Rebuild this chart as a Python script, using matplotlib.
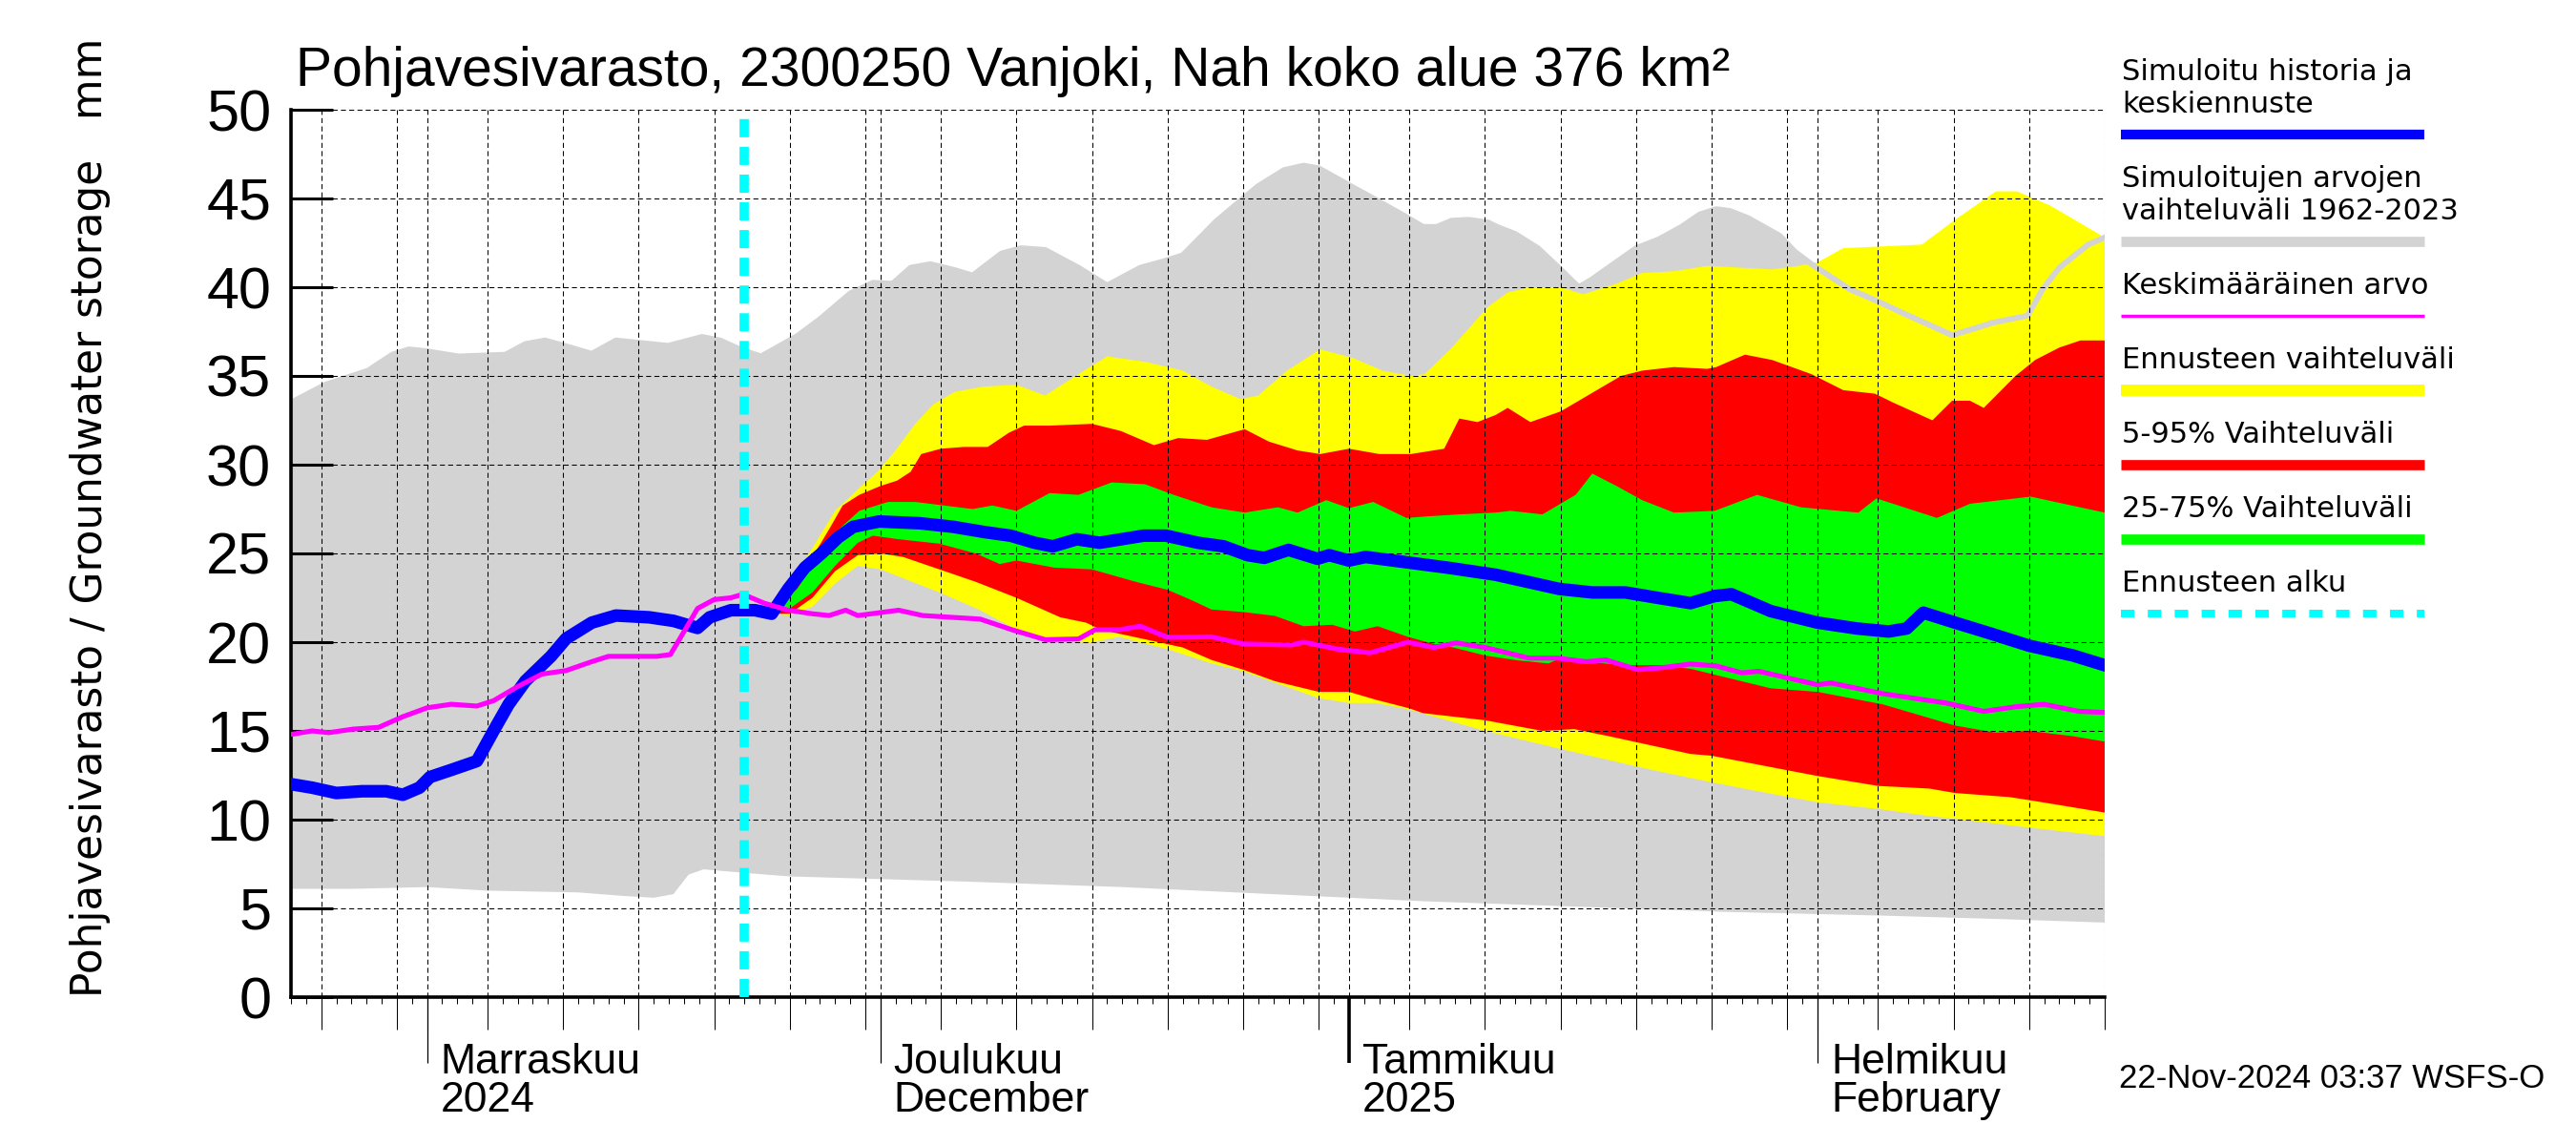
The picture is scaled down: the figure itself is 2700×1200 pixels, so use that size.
import numpy as np
import matplotlib
matplotlib.use("Agg")
import matplotlib.pyplot as plt
import matplotlib.dates as mdates
from matplotlib import font_manager
from matplotlib.lines import Line2D
from matplotlib.transforms import blended_transform_factory, ScaledTranslation

# day offsets from 23 Oct 2024, values in mm
start_date = "2024-10-23"
end_date = "2025-02-20"
forecast_start = "2024-11-22"

gray_hi_d = [0, 2.25, 5.1, 6.7, 7.8, 8.9, 11.1, 14.2, 15.5, 16.8, 18.3, 19.9, 21.5, 24.95, 27.2, 28.4, 29.7, 31.1,
             33.5, 35.0, 37.0, 38.5, 39.8, 41.0, 42.3, 43.9, 45.1, 47.0, 48.3, 49.9, 52.1, 54.0, 56.2, 57.7, 59.0,
             61.2, 63.0, 64.0, 65.7, 67.0, 68.0, 69.9, 71.4, 73.5, 74.9, 75.8, 76.8, 77.9, 79.2, 79.8, 81.0, 82.5,
             84.0, 85.2, 86.0, 87.5, 89.0, 90.5, 92.0, 93.2, 94.3, 95.2, 96.4, 98.5, 99.5, 100.6, 103.1, 105.0,
             106.5, 109.9, 111.1, 112.6, 114.9, 115.9, 117.0, 118.9, 120.0]
gray_hi_v = [33.5, 34.5, 35.3, 36.2, 36.5, 36.4, 36.1, 36.2, 36.8, 37.0, 36.65, 36.25, 37.0, 36.7, 37.2, 37.0, 36.5,
             36.1, 37.25, 38.2, 39.65, 40.25, 40.2, 41.1, 41.3, 40.97, 40.66, 41.9, 42.2, 42.1, 41.1, 40.1, 41.1,
             41.45, 41.8, 43.7, 45.0, 45.7, 46.6, 46.85, 46.7, 45.8, 45.1, 44.1, 43.4, 43.4, 43.75, 43.8, 43.65,
             43.4, 43.0, 42.2, 41.0, 40.0, 40.4, 41.3, 42.2, 42.7, 43.4, 44.1, 44.4, 44.3, 43.9, 42.9, 42.0, 41.3,
             39.9, 39.2, 38.6, 37.3, 37.6, 38.0, 38.4, 39.9, 41.1, 42.4, 42.8]
gray_lo_d = [0, 4, 9, 13, 19, 22, 24, 25.3, 26.3, 27.3, 30, 33, 37, 45, 55, 65, 75, 85, 95, 105, 113, 120]
gray_lo_v = [6.1, 6.1, 6.2, 6.0, 5.9, 5.7, 5.6, 5.8, 6.9, 7.2, 7.0, 6.8, 6.7, 6.5, 6.2, 5.8, 5.4, 5.1, 4.8, 4.6,
             4.4, 4.2]

yel_hi_d = [31.8, 33.0, 34.5, 36.0, 37.5, 38.8, 40.0, 41.3, 42.5, 43.9, 45.8, 48.0, 49.9, 52.1, 54.0, 56.5, 59.0,
            60.9, 62.8, 64.0, 65.9, 68.1, 70.3, 72.2, 74.1, 75.0, 76.7, 79.2, 80.5, 82.0, 84.0, 85.5, 87.7, 89.4,
            91.5, 93.7, 95.9, 98.0, 99.7, 101.0, 102.7, 107.9, 110.1, 112.8, 114.2, 116.4, 120.0]
yel_hi_v = [21.7, 23.3, 25.3, 27.4, 28.6, 29.6, 30.8, 32.3, 33.4, 34.1, 34.4, 34.5, 33.9, 35.1, 36.1, 35.8, 35.3,
            34.4, 33.7, 33.9, 35.3, 36.5, 36.0, 35.3, 35.0, 35.1, 36.5, 38.9, 39.7, 40.0, 40.0, 39.6, 40.2, 40.8,
            40.9, 41.2, 41.1, 41.0, 41.2, 41.4, 42.2, 42.4, 43.8, 45.4, 45.4, 44.6, 42.8]
yel_lo_d = [31.8, 33.0, 34.5, 36.0, 37.5, 39.0, 42.9, 45.6, 48.0, 50.5, 53.0, 54.8, 58.0, 60.9, 63.0, 68.0, 70.0,
            71.8, 74.0, 79.0, 84.0, 89.0, 90.6, 94.0, 98.9, 101.0, 105.0, 108.4, 110.1, 115.0, 120.0]
yel_lo_v = [21.6, 21.5, 22.0, 23.3, 24.3, 24.1, 22.8, 21.8, 20.7, 20.1, 20.0, 20.3, 19.6, 18.8, 18.36, 16.84, 16.57,
            16.57, 16.2, 15.0, 13.98, 13.0, 12.7, 12.1, 11.3, 10.98, 10.6, 10.2, 10.05, 9.55, 9.07]

red_hi_d = [31.8, 33.5, 35.0, 35.7, 36.5, 37.6, 39.0, 40.1, 41.0, 41.7, 43.0, 44.5, 46.1, 47.5, 48.5, 50.2, 53.0,
            54.9, 57.1, 58.7, 60.6, 63.1, 64.7, 66.6, 68.1, 70.0, 72.0, 74.1, 76.3, 77.3, 78.5, 79.7, 80.5, 82.0,
            84.0, 86.0, 88.0, 89.4, 91.5, 93.7, 94.3, 96.2, 98.0, 100.6, 102.7, 104.8, 106.0, 108.6, 109.9, 111.1,
            112.0, 114.1, 115.4, 117.0, 118.4, 120.0]
red_hi_v = [21.7, 23.5, 25.5, 26.5, 27.7, 28.3, 28.8, 29.1, 29.6, 30.6, 30.9, 31.0, 31.0, 31.8, 32.2, 32.2, 32.3,
            31.9, 31.1, 31.5, 31.4, 32.0, 31.3, 30.8, 30.6, 30.9, 30.6, 30.6, 30.9, 32.6, 32.4, 32.8, 33.2, 32.4,
            33.0, 34.0, 35.0, 35.3, 35.5, 35.4, 35.5, 36.2, 35.9, 35.1, 34.2, 34.0, 33.5, 32.5, 33.6, 33.6, 33.2,
            35.0, 35.9, 36.6, 37.0, 37.0]
red_lo_d = [31.8, 33.0, 34.5, 36.0, 37.5, 39.0, 40.5, 42.9, 45.3, 48.0, 50.9, 52.6, 53.6, 56.3, 59.0, 60.9, 63.0,
            65.1, 68.0, 70.0, 71.8, 74.0, 74.9, 79.0, 82.8, 84.9, 87.2, 90.6, 92.6, 94.0, 98.9, 101.0, 105.0, 108.4,
            110.1, 113.7, 115.0, 120.0]
red_lo_v = [21.6, 21.6, 22.5, 24.0, 24.9, 25.0, 24.8, 24.1, 23.4, 22.5, 21.4, 21.1, 20.7, 20.2, 19.7, 19.0, 18.45,
            17.8, 17.2, 17.2, 16.75, 16.27, 16.0, 15.6, 15.0, 15.1, 14.7, 14.07, 13.7, 13.6, 12.8, 12.46, 11.9,
            11.75, 11.5, 11.27, 11.1, 10.4]

grn_hi_d = [31.8, 33.5, 35.0, 36.3, 37.6, 39.5, 41.3, 43.2, 45.1, 46.4, 48.0, 50.2, 52.1, 54.3, 56.5, 58.4, 60.9,
            63.1, 65.3, 66.6, 68.5, 70.0, 71.6, 73.8, 75.4, 77.3, 79.7, 80.7, 82.8, 85.0, 86.1, 87.7, 89.4, 91.5,
            94.2, 97.0, 99.9, 103.7, 104.9, 108.9, 111.1, 115.1, 120.0]
grn_hi_v = [21.7, 23.0, 25.0, 26.4, 27.4, 27.9, 27.9, 27.7, 27.5, 27.7, 27.4, 28.4, 28.3, 29.0, 28.9, 28.3, 27.6,
            27.3, 27.6, 27.3, 28.0, 27.55, 27.9, 27.0, 27.1, 27.2, 27.3, 27.4, 27.2, 28.3, 29.5, 28.8, 28.0, 27.3,
            27.4, 28.3, 27.6, 27.3, 28.1, 27.0, 27.8, 28.2, 27.3]
grn_lo_d = [31.8, 33.0, 34.5, 36.0, 37.5, 38.5, 40.2, 42.9, 45.3, 46.9, 48.0, 50.5, 53.0, 55.9, 58.0, 59.5, 60.9,
            63.0, 65.1, 67.0, 68.9, 70.4, 71.9, 73.9, 75.6, 76.9, 79.0, 81.1, 83.2, 84.0, 85.5, 88.3, 90.6, 92.6,
            97.9, 101.0, 105.3, 110.1, 112.8, 115.0, 117.9, 120.0]
grn_lo_v = [21.6, 21.9, 22.8, 24.3, 25.6, 26.0, 25.8, 25.55, 25.0, 24.4, 24.6, 24.2, 24.1, 23.4, 22.95, 22.4, 21.84,
            21.7, 21.48, 20.9, 20.98, 20.6, 20.9, 20.3, 19.9, 19.7, 19.25, 18.98, 18.8, 19.1, 18.9, 18.7, 18.7, 18.5,
            17.4, 17.2, 16.5, 15.3, 14.9, 15.0, 14.7, 14.4]

blue_d = [0, 1.4, 3.0, 4.7, 6.3, 7.4, 8.5, 9.2, 10.6, 12.3, 13.4, 14.4, 15.5, 17.2, 18.2, 19.9, 21.5, 23.7, 25.3,
          26.9, 27.7, 29.1, 30.7, 31.8, 32.9, 34.0, 35.1, 36.2, 37.2, 38.9, 41.6, 43.8, 45.9, 47.6, 49.2, 50.4, 52.0,
          53.5, 56.4, 57.9, 60.0, 61.7, 63.3, 64.4, 66.0, 67.9, 68.7, 70.0, 71.1, 73.8, 76.5, 79.7, 81.8, 83.9,
          86.1, 88.3, 90.4, 92.6, 94.2, 95.3, 96.4, 97.9, 101.0, 103.6, 105.7, 106.9, 108.0, 110.1, 112.4, 115.0,
          117.9, 120.0]
blue_v = [12.0, 11.8, 11.5, 11.6, 11.6, 11.4, 11.8, 12.4, 12.8, 13.3, 15.0, 16.5, 17.8, 19.2, 20.2, 21.1, 21.5,
          21.4, 21.2, 20.8, 21.4, 21.8, 21.8, 21.6, 23.0, 24.2, 25.0, 25.9, 26.5, 26.8, 26.7, 26.5, 26.2, 26.0,
          25.6, 25.4, 25.8, 25.6, 26.0, 26.0, 25.6, 25.4, 24.9, 24.75, 25.2, 24.7, 24.9, 24.6, 24.8, 24.5, 24.2,
          23.8, 23.4, 23.0, 22.8, 22.8, 22.5, 22.2, 22.6, 22.7, 22.3, 21.75, 21.1, 20.77, 20.6, 20.77, 21.66, 21.1,
          20.5, 19.8, 19.25, 18.7]

mean_d = [0, 1.4, 2.5, 4.1, 5.8, 7.4, 9.0, 10.6, 12.3, 13.4, 15.0, 16.6, 18.2, 19.9, 21.0, 22.6, 24.2, 25.1, 25.8,
          26.9, 28.0, 29.1, 29.9, 31.3, 32.9, 34.5, 35.6, 36.7, 37.5, 40.2, 41.8, 45.6, 47.7, 49.9, 52.1, 53.2,
          54.8, 56.2, 58.0, 60.9, 63.0, 66.2, 67.0, 69.3, 71.4, 73.9, 75.6, 77.1, 79.0, 81.9, 83.8, 85.7, 87.0,
          89.1, 90.6, 92.6, 94.3, 96.0, 97.1, 101.0, 101.9, 105.3, 109.5, 112.0, 114.1, 116.0, 118.3, 120.0]
mean_v = [14.8, 15.0, 14.9, 15.1, 15.2, 15.8, 16.3, 16.5, 16.4, 16.7, 17.5, 18.2, 18.4, 18.9, 19.2, 19.2, 19.2,
          19.3, 20.3, 21.9, 22.4, 22.5, 22.7, 22.2, 21.8, 21.6, 21.5, 21.8, 21.5, 21.8, 21.5, 21.3, 20.7, 20.14,
          20.18, 20.7, 20.7, 20.9, 20.27, 20.3, 19.9, 19.84, 20.0, 19.6, 19.4, 20.0, 19.7, 19.96, 19.7, 19.1, 19.1,
          18.9, 19.0, 18.45, 18.55, 18.77, 18.66, 18.27, 18.36, 17.6, 17.7, 17.1, 16.57, 16.1, 16.36, 16.5, 16.1,
          16.04]

month_starts = ["2024-11-01", "2024-12-01", "2025-01-01", "2025-02-01"]
month_fi = ["Marraskuu", "Joulukuu", "Tammikuu", "Helmikuu"]
month_en = ["2024", "December", "2025", "February"]

title = "Pohjavesivarasto, 2300250 Vanjoki, Nah koko alue 376 km²"
ylabel = "Pohjavesivarasto / Groundwater storage   mm"
footer = "22-Nov-2024 03:37 WSFS-O"

legend_items = [
    (["Simuloitu historia ja", "keskiennuste"], "#0000ff", 7.4, None),
    (["Simuloitujen arvojen", "vaihteluväli 1962-2023"], "#d3d3d3", 7.7, None),
    (["Keskimääräinen arvo"], "#ff00ff", 2.4, None),
    (["Ennusteen vaihteluväli"], "#ffff00", 8.6, None),
    (["5-95% Vaihteluväli"], "#ff0000", 7.7, None),
    (["25-75% Vaihteluväli"], "#00ff00", 7.7, None),
    (["Ennusteen alku"], "#00ffff", 5.8, (1.75, 1.75)),
]


def pick_font(*names):
    for n in names:
        try:
            font_manager.findfont(font_manager.FontProperties(family=n), fallback_to_default=False)
            return n
        except ValueError:
            pass
    return "DejaVu Sans"


narrow = pick_font("Liberation Sans Narrow", "Liberation Sans")

t0 = mdates.date2num(np.datetime64(start_date))


def tx(days):
    return t0 + np.asarray(days, dtype=float)


W, H = 2700, 1200
fig = plt.figure(figsize=(W / 100, H / 100), dpi=100)
ax = fig.add_axes([305 / W, 1 - 1045 / H, (2206 - 305) / W, (1045 - 115) / H])


def band(hi_d, hi_v, lo_d, lo_v, color, z):
    xs = np.concatenate([tx(hi_d), tx(lo_d)[::-1]])
    ys = np.concatenate([hi_v, lo_v[::-1]])
    ax.fill(xs, ys, color=color, lw=0, zorder=z)


band(gray_hi_d, gray_hi_v, gray_lo_d, gray_lo_v, "#d3d3d3", 1.0)
band(yel_hi_d, yel_hi_v, yel_lo_d, yel_lo_v, "#ffff00", 1.1)
band(red_hi_d, red_hi_v, red_lo_d, red_lo_v, "#ff0000", 1.2)
band(grn_hi_d, grn_hi_v, grn_lo_d, grn_lo_v, "#00ff00", 1.3)
ax.plot(tx(gray_hi_d), gray_hi_v, color="#d3d3d3", lw=4.3, zorder=1.4)

ax.plot(tx(blue_d), blue_v, color="#0000ff", lw=9.5, zorder=3)
ax.plot(tx(mean_d), mean_v, color="#ff00ff", lw=3.7, zorder=4)
ax.axvline(mdates.date2num(np.datetime64(forecast_start)), color="#00ffff", lw=7,
           linestyle=(0, (1.96, 1.03)), dash_capstyle="butt", zorder=6)

ax.set_xlim(tx(0), tx(120))
ax.set_ylim(0, 50)

# calendar ticks
days = np.arange(np.datetime64(start_date), np.datetime64(end_date) + 1)
dom = (days - days.astype("datetime64[M]")).astype(int) + 1
grid_days = days[np.isin(dom, [1, 5, 10, 15, 20, 25, 30])]
ax.set_xticks(mdates.date2num(grid_days))
ax.set_xticks(mdates.date2num(days), minor=True)
ax.tick_params(axis="x", which="major", direction="out", length=24.5, width=0.75, labelbottom=False)
ax.tick_params(axis="x", which="minor", direction="out", length=5, width=0.75)
ax.set_yticks(range(0, 51, 5))
ax.tick_params(axis="y", direction="in", length=32, width=2.2, pad=15, labelsize=44,
               labelfontfamily=narrow)
ax.set_axisbelow(False)
ax.grid(which="major", color="k", linestyle=(0, (5, 3.3)), linewidth=0.75)

for s in ["top", "right"]:
    ax.spines[s].set_visible(False)
for s in ["left", "bottom"]:
    ax.spines[s].set_linewidth(2.6)

xt = ax.get_xaxis_transform()
ax_h = 1045 - 115
for m in month_starts:
    xm = mdates.date2num(np.datetime64(m))
    lw = 2.6 if m.endswith("01-01") else 0.9
    ax.plot([xm, xm], [0, -69 / ax_h], transform=xt, clip_on=False, color="k", lw=lw,
            solid_capstyle="butt")

lab_tr = blended_transform_factory(ax.transData, fig.transFigure) + ScaledTranslation(0.14, 0, fig.dpi_scale_trans)
for m, fi, en in zip(month_starts, month_fi, month_en):
    xm = mdates.date2num(np.datetime64(m))
    fig.text(xm, 1 - 1165 / H, fi + "\n" + en, transform=lab_tr, fontsize=32, family=narrow,
             va="baseline", linespacing=0.98)

fig.text(310 / W, 1 - 90 / H, title, fontsize=41, family=narrow, va="baseline")
fig.text(95 / W, 1 - 1045 / H, ylabel, rotation=90, fontsize=31.5, family="DejaVu Sans",
         ha="center", va="bottom")
fig.text(2221 / W, 1 - 1140 / H, footer, fontsize=25, family=narrow, va="baseline")

# legend on the right
y = 84.4
for lines, color, lw, dashes in legend_items:
    for i, txt in enumerate(lines):
        fig.text(2224 / W, 1 - (y + 34 * i) / H, txt, fontsize=22, family="DejaVu Sans", va="baseline")
    ly = y + 34 * (len(lines) - 1) + 23
    ls = (0, dashes) if dashes else "-"
    fig.add_artist(Line2D([2223 / W, 2541 / W], [1 - ly / H, 1 - ly / H], color=color, lw=lw,
                          linestyle=ls, solid_capstyle="butt", dash_capstyle="butt",
                          transform=fig.transFigure))
    y = ly + 55

fig.savefig("out.png", dpi=100)
